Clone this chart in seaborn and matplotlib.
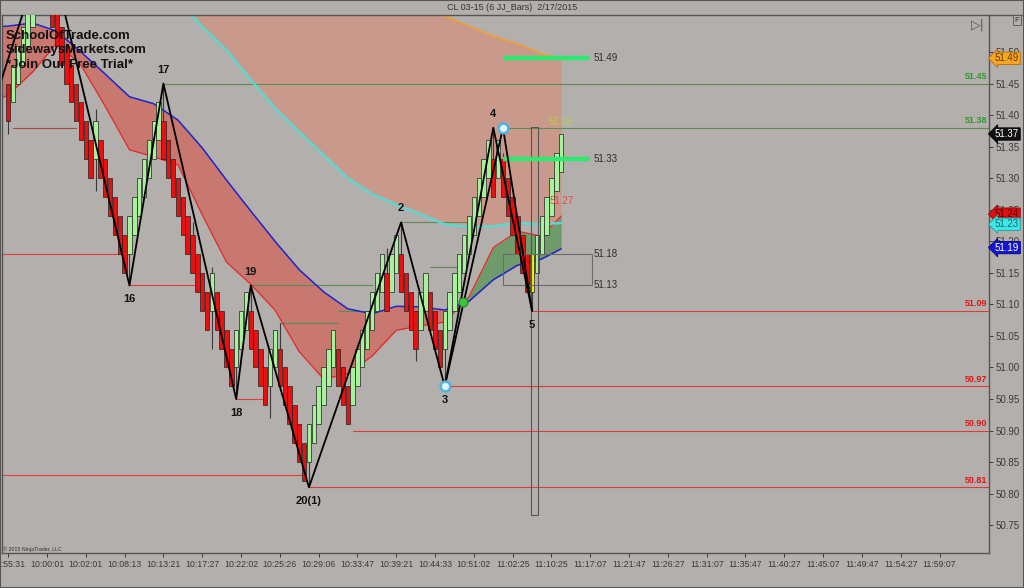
import matplotlib
matplotlib.use("Agg")
import numpy as np
import matplotlib.pyplot as plt
import matplotlib.transforms as mtrans
from matplotlib.patches import Rectangle
from matplotlib.lines import Line2D
import seaborn as sns

# ---------------- data ----------------
bar_close = [51.39, 51.48, 51.51, 51.54, 51.57, 51.60, 51.63, 51.66, 51.57, 51.54,
             51.51, 51.48, 51.45, 51.42, 51.39, 51.36, 51.33, 51.30, 51.39, 51.30,
             51.27, 51.24, 51.21, 51.18, 51.15, 51.24, 51.27, 51.30, 51.33, 51.36,
             51.39, 51.42, 51.33, 51.30, 51.27, 51.24, 51.21, 51.18, 51.15, 51.12,
             51.09, 51.06, 51.15, 51.06, 51.03, 51.00, 50.97, 51.06, 51.09, 51.12,
             51.03, 51.00, 50.97, 50.94, 51.03, 51.06, 50.97, 50.94, 50.91, 50.88,
             50.85, 50.82, 50.91, 50.94, 50.97, 51.00, 51.03, 51.06, 50.97, 50.94,
             50.91, 51.00, 51.03, 51.06, 51.09, 51.12, 51.15, 51.18, 51.09, 51.18,
             51.21, 51.12, 51.09, 51.06, 51.03, 51.12, 51.15, 51.06, 51.03, 51.00,
             51.09, 51.12, 51.15, 51.18, 51.21, 51.24, 51.27, 51.30, 51.33, 51.36,
             51.27, 51.36, 51.27, 51.24, 51.21, 51.18, 51.15, 51.12, 51.18, 51.21,
             51.24, 51.27, 51.30, 51.34, 51.37]
bar_dir = ("d uuuuuuu dddddddddd u dddddd uuuuuuu dddddddddd u dddd uuu dddd uu "
           "dddddd uuuuuu ddd uuuuuuu d uu dddd uu ddd uuuuuuuuuu d u dddddd y uuuuuu").replace(" ", "")
body_size = 0.06  # 6-tick JJ bars

wick_bar = [0, 18, 25, 32, 38, 42, 47, 50, 54, 56, 62, 78, 81, 84, 90, 100, 102, 108]
wick_lo = [51.37, 51.28, 51.13, 51.33, 51.15, 51.03, 50.95, 51.03, 50.92, 50.97, 50.81,
           51.09, 51.12, 51.01, 50.97, 51.27, 51.27, 51.09]
wick_hi = [51.45, 51.41, 51.24, 51.45, 51.23, 51.16, 51.06, 51.13, 51.03, 51.07, 50.91,
           51.19, 51.23, 51.09, 51.09, 51.38, 51.34, 51.18]

ma_x = [-2, 0, 5, 10, 15, 20, 25, 30, 35, 40, 45, 50, 55, 60, 65, 70, 75, 80, 85,
        90, 95, 100, 105, 110, 114]
ma_fast_blue = [51.540, 51.541, 51.546, 51.533, 51.500, 51.465, 51.429, 51.418, 51.392,
                51.348, 51.297, 51.248, 51.200, 51.155, 51.120, 51.093, 51.085, 51.097,
                51.096, 51.091, 51.105, 51.139, 51.162, 51.172, 51.188]
ma_band_red = [51.425, 51.432, 51.468, 51.514, 51.479, 51.414, 51.345, 51.334, 51.321,
               51.242, 51.167, 51.132, 51.091, 51.025, 50.982, 50.990, 51.018, 51.059,
               51.066, 51.072, 51.112, 51.190, 51.216, 51.208, 51.240]

slow_x = [36, 40, 45, 50, 55, 60, 65, 70, 75, 80, 85, 90, 95, 100, 105, 110, 114]
ma_cyan = [51.574, 51.540, 51.503, 51.456, 51.411, 51.373, 51.337, 51.300, 51.275,
           51.258, 51.243, 51.227, 51.223, 51.224, 51.229, 51.227, 51.229]
ma_orange = [51.80, 51.78, 51.75, 51.72, 51.69, 51.67, 51.64, 51.62, 51.60, 51.585,
             51.57, 51.557, 51.541, 51.525, 51.513, 51.497, 51.490]

zz_bar = [-5, 8, 25, 32, 47, 50, 62, 81, 90, 100, 108]
zz_price = [51.37, 51.68, 51.13, 51.45, 50.95, 51.13, 50.81, 51.23, 50.97, 51.38, 51.09]
zz2_bar = [90, 102, 108]
zz2_price = [50.97, 51.38, 51.09]
swing_names = ["16", "17", "18", "19", "20(1)", "2", "3", "4", "5"]
swing_bar = [25, 32, 47, 50, 62, 81, 90, 100, 108]
swing_price = [51.13, 51.45, 50.95, 51.13, 50.81, 51.23, 50.97, 51.38, 51.09]
swing_is_high = [False, True, False, True, False, True, False, True, False]

RIGHT = 203
lvl_start = [1, -2, 25, 47, -2, 62, 71, 90, 108, 32, 102, 50, 81, 56, 68, 87]
lvl_end = [14, 23, 39, 52.5, 61, RIGHT, RIGHT, RIGHT, RIGHT, RIGHT, RIGHT, 75, 95, 68, 77, 92.5]
lvl_price = [51.38, 51.18, 51.13, 50.95, 50.83, 50.81, 50.90, 50.97, 51.09, 51.45, 51.38,
             51.13, 51.23, 51.07, 51.09, 51.16]
lvl_kind = ["b", "r", "r", "r", "r", "r", "r", "r", "r", "g", "g", "g", "g", "g", "g", "g"]
edge_labels = ["51.45", "51.38", "51.09", "50.97", "50.90", "50.81"]
edge_label_price = [51.45, 51.38, 51.09, 50.97, 50.90, 50.81]
edge_label_kind = ["g", "g", "r", "r", "r", "r"]

target_price = [51.49, 51.33]
target_from, target_to = 102, 120
box_lo, box_hi = 51.13, 51.18

tick_labels = ["09:55:31", "10:00:01", "10:02:01", "10:08:13", "10:13:21", "10:17:27",
               "10:22:02", "10:25:26", "10:29:06", "10:33:47", "10:39:21", "10:44:33",
               "10:51:02", "11:02:25", "11:10:25", "11:17:07", "11:21:47", "11:26:27",
               "11:31:07", "11:35:47", "11:40:27", "11:45:07", "11:49:47", "11:54:27",
               "11:59:07"]
tick_bars = list(range(0, 193, 8))

tags = [("51.49", 51.49, "#f5a623", "#b86e00", "#6a3c00"),
        ("51.37", 51.37, "#111111", "#000000", "#ffffff"),
        ("51.24", 51.243, "#dd1111", "#990000", "#550000"),
        ("51.23", 51.227, "#3ee6e6", "#1aa0a0", "#0a6f7a"),
        ("51.19", 51.19, "#1515cc", "#000088", "#ffffff")]

# ---------------- style ----------------
BG = "#b3afac"
sns.set_theme(style="ticks", rc={"axes.facecolor": BG, "figure.facecolor": BG})
plt.rcParams["font.family"] = ["Liberation Sans", "DejaVu Sans"]

fig = plt.figure(figsize=(10.24, 5.88), dpi=100)
ax = fig.add_axes([2 / 1024, 35 / 588, 987 / 1024, 538 / 588])
ax.set_facecolor(BG)
ax.set_xlim(-1.28, 202.2)
ax.set_ylim(50.706, 51.5586)

# fills
bx = np.array(ma_x, float)
bb = np.array(ma_fast_blue)
br = np.array(ma_band_red)
ax.fill_between(bx, bb, br, where=bb >= br, interpolate=True, color="#c8786f", lw=0, zorder=1)
ax.fill_between(bx, bb, br, where=bb < br, interpolate=True, color="#6f9b6a", lw=0, zorder=1)
ax.fill_between(slow_x, ma_cyan, ma_orange, color="#c99a8c", lw=0, zorder=0.9)

# level lines
kind_col = {"r": "#e23a3a", "g": "#5d8a55", "b": "#a04848"}
for s, e, p, k in zip(lvl_start, lvl_end, lvl_price, lvl_kind):
    ax.plot([s, e], [p, p], color=kind_col[k], lw=0.8, zorder=1.5)

# moving averages with seaborn
sns.lineplot(x=ma_x, y=ma_fast_blue, ax=ax, color="#2222cc", lw=1.1, sort=False, estimator=None, zorder=2)
sns.lineplot(x=ma_x, y=ma_band_red, ax=ax, color="#e02a2a", lw=0.9, sort=False, estimator=None, zorder=2)
sns.lineplot(x=slow_x, y=ma_cyan, ax=ax, color="#5fd6d0", lw=1.8, sort=False, estimator=None, zorder=2)
sns.lineplot(x=slow_x, y=ma_orange, ax=ax, color="#f0a030", lw=1.2, sort=False, estimator=None, zorder=2)

# bars
idx = np.arange(len(bar_close))
closes = np.array(bar_close)
sign = np.array([1 if d in "uy" else -1 for d in bar_dir])
opens = closes - sign * body_size
cols = ["#a9f09c" if d == "u" else ("#f2ee1a" if d == "y" else "#e81010") for d in bar_dir]
ax.vlines(wick_bar, wick_lo, wick_hi, color="#3a3a3a", lw=0.8, zorder=2.9)
ax.bar(idx, closes - opens, bottom=opens, width=0.9, color=cols, edgecolor="#202020",
       linewidth=0.5, zorder=3)

# tall outline bar and box
ax.add_patch(Rectangle((107.8, 50.766), 1.5, 51.381 - 50.766, fill=False, ec="#555555", lw=0.8, zorder=3.5))
ax.add_patch(Rectangle((target_from, box_lo), target_to + 0.3 - target_from, box_hi - box_lo,
                       fill=False, ec="#6a6a6a", lw=0.8, zorder=3.5))

# target lines
for p in target_price:
    ax.plot([target_from, target_to], [p, p], color="#2ee870", lw=3.2, solid_capstyle="butt", zorder=4)
for lab, p in zip(["51.49", "51.33", "51.18", "51.13"], [51.49, 51.33, box_hi, box_lo]):
    ax.text(120.6, p, lab, fontsize=7, color="#2e2e2e", ha="left", va="center", zorder=5)

# zigzag
ax.plot(zz_bar, zz_price, color="black", lw=1.3, zorder=4.5)
ax.plot(zz2_bar, zz2_price, color="black", lw=1.3, zorder=4.5)
for name, b, p, hi in zip(swing_names, swing_bar, swing_price, swing_is_high):
    ax.annotate(name, (b, p), xytext=(0, 10 if hi else -10), textcoords="offset points",
                ha="center", va="center", fontsize=8, fontweight="bold", color="#111111", zorder=6)

# circles / dot
ax.plot([90, 102], [50.97, 51.38], "o", ms=7, mfc="#e2f4fb", mec="#4fb4e0", mew=1.8, zorder=6)
ax.plot([93.8], [51.104], "o", ms=6.5, mfc="#3cc43c", mec="#208a20", mew=0.8, zorder=6)

ax.text(114, 51.264, "51.27", fontsize=7, color="#e04545", ha="center", va="center", zorder=6)
ax.text(113.8, 51.389, "51.38", fontsize=7, color="#b8d048", ha="center", va="center", zorder=6)

# edge labels
blend = mtrans.blended_transform_factory(ax.transAxes, ax.transData)
for lab, p, k in zip(edge_labels, edge_label_price, edge_label_kind):
    ax.text(0.998, p + 0.004, lab, transform=blend, ha="right", va="bottom", fontsize=6.5,
            fontweight="bold", color="#2e9a2e" if k == "g" else "#e01515", zorder=6)

# axes formatting
ax.yaxis.tick_right()
yt = [50.75, 50.80, 50.85, 50.90, 50.95, 51.00, 51.05, 51.10, 51.15, 51.20, 51.25, 51.30,
      51.35, 51.40, 51.45, 51.50]
ax.set_yticks(yt)
ax.set_yticklabels([f"{v:.2f}" for v in yt])
ax.set_xticks(tick_bars)
ax.set_xticklabels(tick_labels)
ax.tick_params(axis="y", direction="out", length=3, width=0.7, pad=1.5, labelsize=7,
               colors="#3a3a3a", right=True, left=False)
ax.tick_params(axis="x", direction="out", length=3, width=0.7, pad=2, labelsize=6.3,
               colors="#3a3a3a")
for lab in ax.get_xticklabels():
    lab.set_clip_on(False)
ax.set_xlabel("")
ax.set_ylabel("")
for s in ax.spines.values():
    s.set_visible(True)
    s.set_color("#555555")
    s.set_linewidth(1.0)

# price tags
for lab, p, fc, ec, tc in tags:
    ax.text(1.006, p, lab, transform=blend, ha="left", va="center", fontsize=7, color=tc,
            bbox=dict(boxstyle="larrow,pad=0.12", fc=fc, ec=ec, lw=0.6), zorder=10, clip_on=False)

# figure decorations
fig.text(0.5, 1 - 7 / 588, "CL 03-15 (6 JJ_Bars)  2/17/2015", ha="center", va="center",
         fontsize=6.5, color="#333333")
fig.add_artist(Line2D([989 / 1024, 1], [1 - 15 / 588] * 2, color="#555555", lw=1.0))
fig.add_artist(Rectangle((0, 0), 1, 1, transform=fig.transFigure, fill=False, ec="#555555", lw=1.5))
fig.text(978 / 1024, 1 - 25 / 588, "\u25b7|", family="DejaVu Sans", fontsize=9, color="#555555",
         ha="center", va="center")
fig.text(1017 / 1024, 1 - 20 / 588, "F", fontsize=6, color="#333333", ha="center", va="center",
         bbox=dict(boxstyle="square,pad=0.2", fc=BG, ec="#555555", lw=0.6))
for i, t in enumerate(["SchoolOfTrade.com", "SidewaysMarkets.com", "*Join Our Free Trial*"]):
    fig.text(6 / 1024, 1 - (36 + 14.5 * i) / 588, t, fontsize=9.5, fontweight="bold",
             color="#111111", ha="left", va="center", zorder=20)
fig.text(3 / 1024, 1 - 549 / 588, "\u00a9 2015 NinjaTrader, LLC", fontsize=3.8, color="#333333",
         ha="left", va="center")

fig.savefig("out.png", dpi=100, facecolor=BG)
